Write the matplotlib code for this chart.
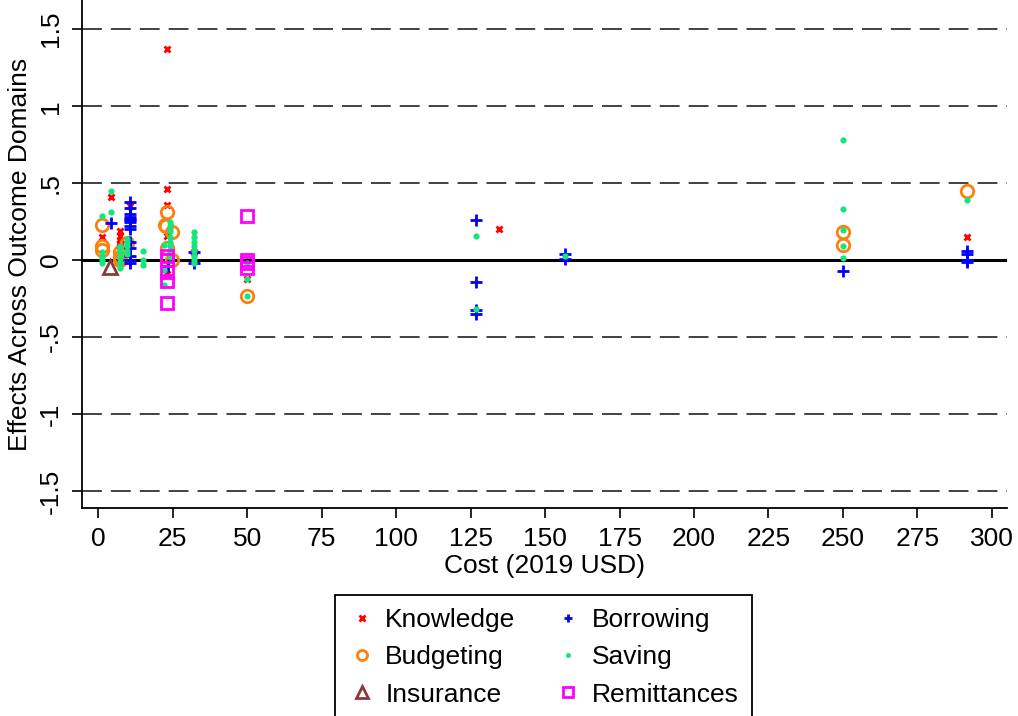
import matplotlib.pyplot as plt
import numpy as np

plt.rcParams['font.family'] = ['Liberation Sans', 'DejaVu Sans']

# cost (2019 USD) and effect size, one pair of lists per outcome domain
knowledge_x = [23, 4.4, 23, 23, 1.2, 7.4, 7.4, 7.4, 7.4, 7.4, 10.7, 23, 23, 49.9, 32.2, 134.6, 291.7]
knowledge_y = [1.37, 0.41, 0.46, 0.36, 0.15, 0.19, 0.16, 0.13, 0.11, 0.09, 0.35, 0.16, -0.09, -0.12, 0.05, 0.20, 0.15]

budgeting_x = [1.2, 1.2, 1.2, 7.3, 7.3, 7.3, 9.6, 23, 22.5, 22.8, 24.7, 23, 24.7, 49.9, 250, 250, 291.7]
budgeting_y = [0.23, 0.09, 0.065, 0.05, 0.02, 0.0, 0.11, 0.31, 0.23, 0.22, 0.18, 0.08, 0.0, -0.23, 0.18, 0.10, 0.45]

insurance_x = [4.0]
insurance_y = [-0.043]

borrowing_x = [4.4] + [10.7] * 14 + [32.2, 32.2, 23.6,
               126.8, 126.8, 126.8, 126.8, 156.8, 156.8,
               250, 291.7, 291.7, 291.7, 291.7]
borrowing_y = [0.24, 0.38, 0.34, 0.30, 0.28, 0.27, 0.26, 0.25, 0.22, 0.20, 0.12, 0.08, 0.03, 0.0, -0.02,
               0.05, -0.02, -0.04,
               0.26, -0.145, -0.325, -0.35, 0.04, 0.01,
               -0.07, 0.06, 0.04, 0.0, -0.01]

saving_x = [4.4, 1.2, 4.4, 1.2, 1.2, 1.2, 1.2,
            7.3, 7.3, 7.3, 7.3, 7.3, 7.3, 7.3, 9.6, 9.6, 9.6, 9.6, 9.6,
            15, 15, 15,
            24, 24, 24, 24, 24, 24, 24, 24, 22, 22, 22,
            32.2, 32.2, 32.2, 32.2, 32.2, 32.2, 32.2, 32.2,
            49.9, 49.9, 49.9,
            126.8, 126.8, 156.8,
            250, 250, 250, 250, 250, 291.7]
saving_y = [0.45, 0.29, 0.31, 0.05, 0.02, 0.0, -0.02,
            0.09, 0.07, 0.05, 0.03, 0.01, -0.02, -0.05, 0.14, 0.12, 0.09, 0.06, 0.04,
            0.06, 0.0, -0.03,
            0.25, 0.22, 0.19, 0.15, 0.12, 0.09, 0.05, 0.02, 0.10, -0.065, -0.16,
            0.18, 0.15, 0.12, 0.09, 0.06, 0.03, 0.0, -0.02,
            -0.02, -0.12, -0.23,
            0.16, -0.32, 0.03,
            0.78, 0.33, 0.195, 0.09, 0.015, 0.39]

remittances_x = [23, 23, 23, 23, 23, 49.9, 49.9, 49.9, 49.9]
remittances_y = [0.03, 0.0, -0.075, -0.135, -0.28, 0.285, 0.0, -0.02, -0.05]

fig = plt.figure(figsize=(10.18, 7.16), dpi=100)
ax = fig.add_axes([0.0806, 0.2905, 0.9084, 0.7095])

for yv in [-1.5, -1, -0.5, 0.5, 1, 1.5]:
    ax.axhline(yv, color='#333333', lw=1.3, dashes=(11, 5), zorder=0)
ax.axhline(0, color='black', lw=2.2, zorder=0)

ax.plot(knowledge_x, knowledge_y, ls='none', marker='x', ms=5, mew=2, color='#ff0000', label='Knowledge')
ax.plot(budgeting_x, budgeting_y, ls='none', marker='o', ms=9, mew=2, mfc='none', color='#ff7f0e', label='Budgeting')
ax.plot(insurance_x, insurance_y, ls='none', marker='^', ms=10, mew=2, mfc='none', color='#8b3a3a', label='Insurance')
ax.plot(borrowing_x, borrowing_y, ls='none', marker='+', ms=8, mew=2, color='#0000ff', label='Borrowing')
ax.plot(saving_x, saving_y, ls='none', marker='o', ms=4.5, mew=0, color='#14e67e', label='Saving')
ax.plot(remittances_x, remittances_y, ls='none', marker='s', ms=9, mew=2, mfc='none', color='#ff00ff', label='Remittances')

ax.set_xlim(-5.4, 305)
ax.set_ylim(-1.61, 1.69)
ax.set_xticks(np.arange(0, 301, 25))
ax.set_yticks([-1.5, -1, -0.5, 0, 0.5, 1, 1.5])
ax.set_yticklabels(['-1.5', '-1', '-.5', '0', '.5', '1', '1.5'], rotation=90, va='center')
ax.tick_params(axis='both', labelsize=19, length=7, width=1.2, direction='out', pad=7)
ax.spines['top'].set_visible(False)
ax.spines['right'].set_visible(False)
ax.spines['left'].set_linewidth(1.3)
ax.spines['bottom'].set_linewidth(1.3)

ax.set_xlabel('Cost (2019 USD)', fontsize=19, labelpad=2)
ax.set_ylabel('Effects Across Outcome Domains', fontsize=19, labelpad=5)

leg = fig.legend(loc='upper center', bbox_to_anchor=(0.534, 0.169), borderaxespad=0, ncol=2, fontsize=19,
                 frameon=True, fancybox=False, edgecolor='black', framealpha=1,
                 handletextpad=0.4, columnspacing=1.5, labelspacing=0.5, borderpad=0.5,
                 handlelength=1.0, markerscale=0.8)
leg.get_frame().set_linewidth(1.3)

fig.savefig('out.png', dpi=100)
